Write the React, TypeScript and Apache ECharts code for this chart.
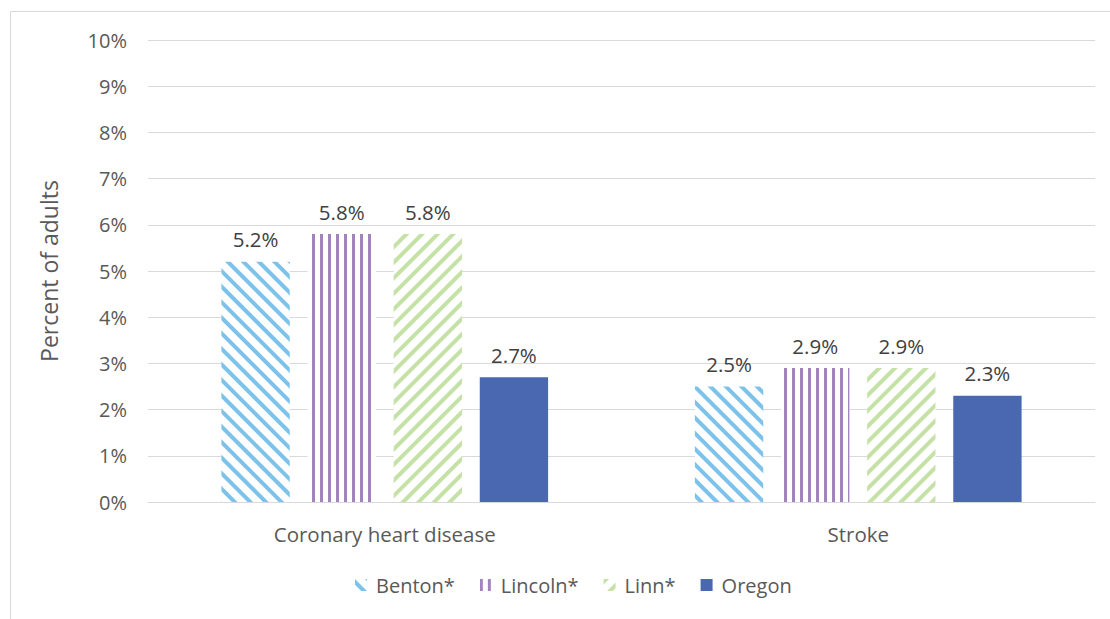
import React, { useEffect, useRef } from "react";
import * as echarts from "echarts";

const categories = ["Coronary heart disease", "Stroke"];
const seriesNames = ["Benton*", "Lincoln*", "Linn*", "Oregon"];
const benton = [5.2, 2.5];
const lincoln = [5.8, 2.9];
const linn = [5.8, 2.9];
const oregon = [2.7, 2.3];
const yTicks = [0, 1, 2, 3, 4, 5, 6, 7, 8, 9, 10];

const FONT = "'Open Sans', 'Noto Sans', sans-serif";

export default function App() {
  const ref = useRef<HTMLDivElement>(null);
  useEffect(() => {
    if (!ref.current) return;
    const chart = echarts.init(ref.current, undefined, { renderer: "svg" });
    const label = {
      show: true,
      position: "top" as const,
      formatter: "{c}%",
      fontSize: 20.5,
      color: "#404040",
      fontFamily: FONT,
      distance: 12,
    };
    const mk = (name: string, data: number[], itemStyle: any) => ({
      name,
      type: "bar",
      data,
      barGap: "26%",
      barCategoryGap: "31%",
      label,
      itemStyle,
    });
    chart.setOption({
      animation: false,
      backgroundColor: "#ffffff",
      textStyle: { fontFamily: FONT },
      graphic: [
        {
          type: "rect",
          shape: { x: 10.5, y: 11.5, width: 1200, height: 700 },
          style: { fill: "none", stroke: "#d9d9d9", lineWidth: 1 },
          silent: true,
        },
      ],
      grid: { left: 148, right: 15, top: 40, bottom: 117 },
      legend: {
        bottom: 19,
        left: 350,
        icon: "rect",
        itemWidth: 12,
        itemHeight: 12,
        itemGap: 25,
        textStyle: { fontSize: 20, color: "#595959", fontFamily: FONT, padding: [0, 0, 0, 4] },
        data: seriesNames,
      },
      xAxis: {
        type: "category",
        data: categories,
        axisLine: { lineStyle: { color: "#d9d9d9", width: 1 } },
        axisTick: { show: false },
        axisLabel: { fontSize: 20.5, color: "#595959", margin: 21, fontFamily: FONT },
      },
      yAxis: {
        type: "value",
        min: yTicks[0],
        max: yTicks[yTicks.length - 1],
        interval: 1,
        name: "Percent of adults",
        nameLocation: "middle",
        nameGap: 88,
        nameTextStyle: { fontSize: 23, color: "#595959", fontFamily: FONT },
        axisLabel: { formatter: "{value}%", fontSize: 20, color: "#595959", margin: 21, fontFamily: FONT },
        splitLine: { lineStyle: { color: "#d9d9d9", width: 1 } },
        axisLine: { show: false },
        axisTick: { show: false },
      },
      series: [
        mk(seriesNames[0], benton, {
          color: "#ffffff",
          decal: {
            symbol: "rect",
            symbolSize: 1,
            color: "#7cc2ea",
            dashArrayX: [1, 0],
            dashArrayY: [4, 7],
            rotation: Math.PI / 4,
          },
        }),
        mk(seriesNames[1], lincoln, {
          color: "#ffffff",
          decal: {
            symbol: "rect",
            symbolSize: 1,
            color: "#a283bf",
            dashArrayX: [3, 5],
            dashArrayY: [1, 0],
            rotation: 0,
          },
        }),
        mk(seriesNames[2], linn, {
          color: "#ffffff",
          decal: {
            symbol: "rect",
            symbolSize: 1,
            color: "#c5e2a6",
            dashArrayX: [1, 0],
            dashArrayY: [4, 7],
            rotation: -Math.PI / 4,
          },
        }),
        mk(seriesNames[3], oregon, { color: "#4a68b2" }),
      ],
    });
    return () => chart.dispose();
  }, []);
  return (
    <div
      ref={ref}
      style={{ position: "fixed", left: 0, top: 0, width: 1110, height: 619 }}
    />
  );
}
